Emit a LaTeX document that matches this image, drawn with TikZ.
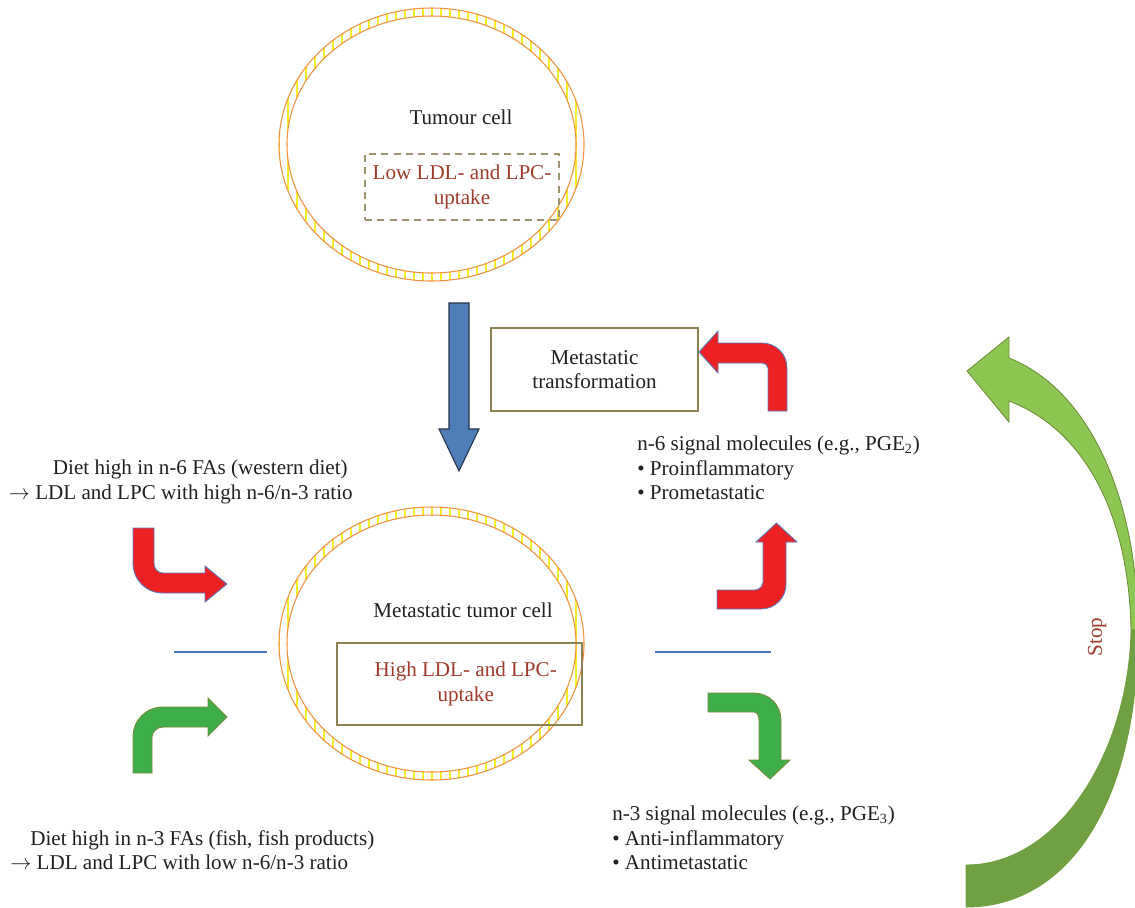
\documentclass[tikz,border=0pt]{standalone}
\usepackage{fontspec}
\setmainfont{Liberation Serif}
\usepackage{tikz}
\usetikzlibrary{positioning}
\definecolor{inkblack}{HTML}{231F20}
\definecolor{textbrown}{HTML}{9E3B2B}
\definecolor{ringorange}{HTML}{F2913D}
\definecolor{ringyellow}{HTML}{F7EC2A}
\definecolor{boxolive}{HTML}{8C8155}
\definecolor{dashgrey}{HTML}{9E9474}
\definecolor{arrblue}{HTML}{4F7DB8}
\definecolor{arrblueedge}{HTML}{25324A}
\definecolor{arrred}{HTML}{ED2024}
\definecolor{arrrededge}{HTML}{5A7DBE}
\definecolor{arrgreen}{HTML}{3DAE49}
\definecolor{arrgreenedge}{HTML}{7D8B3E}
\definecolor{stoplight}{HTML}{8DC653}
\definecolor{stopdark}{HTML}{71A043}
\definecolor{stopedge}{HTML}{6F8F3A}
\definecolor{lineblue}{HTML}{4A76BE}

\begin{document}
\begin{tikzpicture}[
  x=0.02cm,y=-0.02cm,
  font=\fontsize{12pt}{14pt}\selectfont,
  every node/.style={text=inkblack},
  ringline/.style={draw=ringorange,line width=0.6pt},
  ringtick/.style={ringyellow,line width=0.6pt},
  lowbox/.style={draw=dashgrey,dash pattern=on 4pt off 3pt,line width=0.8pt,text=textbrown,align=center,minimum width=3.88cm,minimum height=1.32cm},
  highbox/.style={draw=boxolive,line width=0.8pt,text=textbrown,align=center,minimum width=4.9cm,minimum height=1.64cm},
  transbox/.style={draw=boxolive,line width=0.8pt,align=center,minimum width=4.14cm,minimum height=1.66cm},
  bluearr/.style={fill=arrblue,draw=arrblueedge,line width=0.6pt},
  redarr/.style={fill=arrred,draw=arrrededge,line width=0.5pt},
  greenarr/.style={fill=arrgreen,draw=arrgreenedge,line width=0.5pt},
  stoptop/.style={fill=stoplight,draw=stopedge,line width=0.5pt},
  stopbot/.style={fill=stopdark,draw=stopdark,line width=0.5pt},
  sideline/.style={draw=lineblue,line width=0.7pt},
  sidetext/.style={inner sep=0pt},
]
\useasboundingbox (0,0) rectangle (1135,907);

% Cell membranes (double orange line, yellow hatching)
\foreach \cy in {144.5,643.5}{
  \begin{scope}[even odd rule]
    \clip (431.5,\cy) ellipse [x radius=152.5,y radius=136.5]
          (431.5,\cy) ellipse [x radius=144.5,y radius=128.5];
    \foreach \x in {279,288,...,590}
      \draw[ringtick] (\x,\cy-140) -- (\x,\cy+140);
  \end{scope}
  \draw[ringline] (431.5,\cy) ellipse [x radius=152.5,y radius=136.5];
  \draw[ringline] (431.5,\cy) ellipse [x radius=144.5,y radius=128.5];
}

% Tumour cell (top)
\node (tumour) at (461,117) {Tumour cell};
\node[lowbox] (lowup) at (462,187) {Low LDL- and LPC-\\uptake};

% Metastatic tumor cell (bottom)
\node (metcell) at (463,610) {Metastatic tumor cell};
\node[highbox] (highup) at (459.5,684) {\hspace*{0.25cm}High LDL- and LPC-\\\hspace*{0.25cm}uptake};
\node[transbox] (trans) at (594.5,369.5) {Metastatic\\transformation};

% Transformation arrow
\draw[bluearr] (449,303) -- (469,303) -- (469,429) -- (479,429) -- (459,471)
  -- (439,429) -- (449,429) -- cycle;

% Side lines
\coordinate (lineLa) at (174,652);
\coordinate (lineLb) at (267,652);
\coordinate (lineRa) at (655,652);
\coordinate (lineRb) at (771,652);
\draw[sideline] (lineLa) -- (lineLb);
\draw[sideline] (lineRa) -- (lineRb);

% Diet inputs (left)
\node[sidetext,align=right,anchor=east] (dietsix) at (353,482)
  {Diet high in n-6 FAs (western diet)\hspace*{0.1cm}\\$\rightarrow$ LDL and LPC with high n-6/n-3 ratio};
\node[sidetext,align=left,anchor=west] (dietthree) at (10,850)
  {\hspace*{0.4cm}Diet high in n-3 FAs (fish, fish products)\\$\rightarrow$ LDL and LPC with low n-6/n-3 ratio};
\draw[redarr] (133,528) -- (133,563) .. controls (133,580) and (146,593) .. (163,593)
  -- (205,593) -- (205,602) -- (227,584) -- (205,566) -- (205,573) -- (163,573)
  .. controls (158,573) and (154,569) .. (154,563) -- (154,528) -- cycle;
\draw[greenarr] (133,773) -- (133,737) .. controls (133,720) and (146,707) .. (163,707)
  -- (208,707) -- (208,698) -- (227,717) -- (208,736) -- (208,727) -- (163,727)
  .. controls (157,727) and (152,732) .. (152,737) -- (152,773) -- cycle;

% Signal molecules (right)
\node[sidetext,align=left,anchor=west] (sigsix) at (637,468)
  {n-6 signal molecules (e.g., PGE\textsubscript{2})\\\textbullet\ Proinflammatory\\\textbullet\ Prometastatic};
\node[sidetext,align=left,anchor=west] (sigthree) at (612,838)
  {n-3 signal molecules (e.g., PGE\textsubscript{3})\\\textbullet\ Anti-inflammatory\\\textbullet\ Antimetastatic};
\draw[redarr] (717,590) -- (755,590) .. controls (759,590) and (763,586) .. (763,582)
  -- (763,542) -- (756,542) -- (776.5,523) -- (797,542) -- (786,542) -- (786,584)
  .. controls (786,598) and (775,609) .. (761,609) -- (717,609) -- cycle;
\draw[redarr] (787,411) -- (787,368) .. controls (787,354) and (776,343) .. (762,343)
  -- (718,343) -- (718,331) -- (699,352) -- (718,373) -- (718,363) -- (762,363)
  .. controls (765,363) and (768,365) .. (768,368) -- (768,411) -- cycle;
\draw[greenarr] (708,693) -- (754,693) .. controls (769,693) and (781,705) .. (781,720)
  -- (781,760) -- (790,760) -- (770,779) -- (749,760) -- (759,760) -- (759,720)
  .. controls (759,716) and (757,712) .. (754,712) -- (708,712) -- cycle;

% Stop arrow
\draw[stopbot] (1138,630) .. controls (1138,800) and (1070,907) .. (966,907)
  -- (966,865) .. controls (1060,865) and (1129,750) .. (1131,630) -- cycle;
\draw[stoptop] (1009,358) .. controls (1090,390) and (1138,500) .. (1138,630)
  -- (1131,630) .. controls (1129,515) and (1085,430) .. (1009,401)
  -- (1009,422) -- (967,371) -- (1009,337) -- cycle;
\node[rotate=90,text=textbrown] (stop) at (1097,637) {Stop};
\end{tikzpicture}
\end{document}
